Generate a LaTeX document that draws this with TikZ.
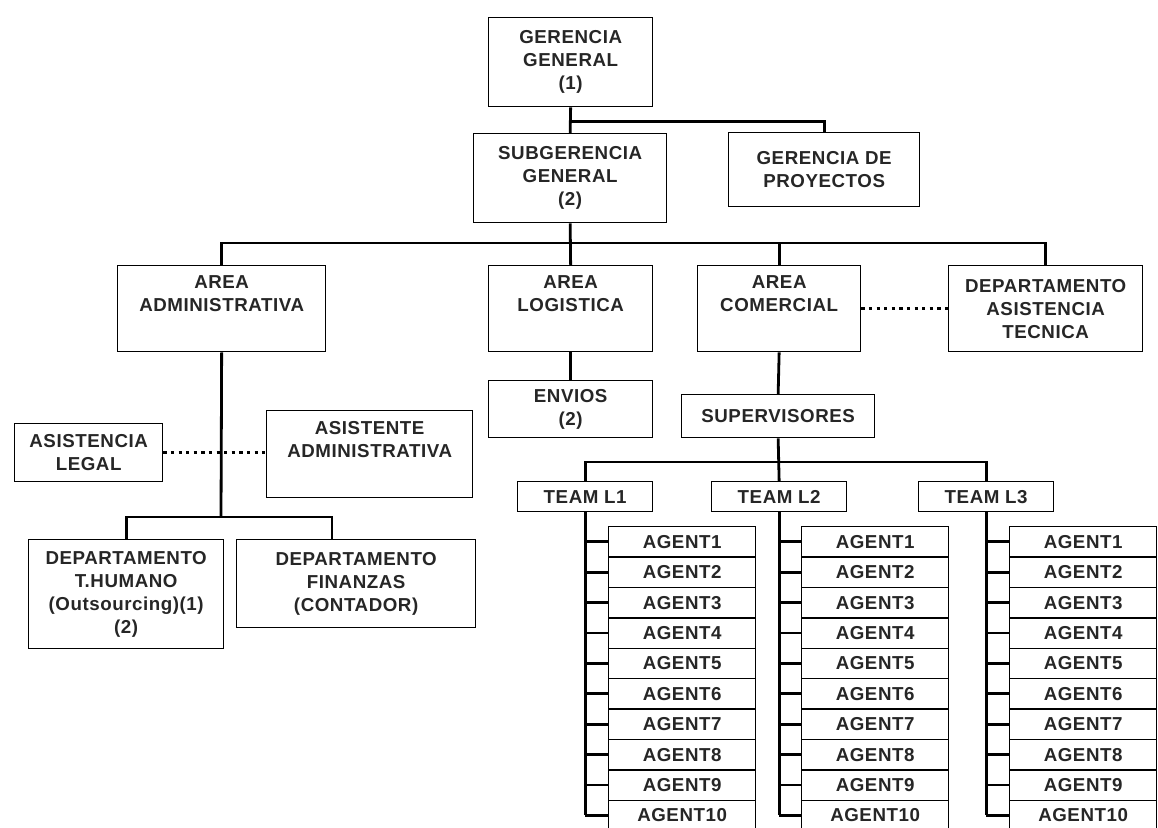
\documentclass[tikz,border=0pt]{standalone}
\usepackage{fontspec}
\setmainfont{Liberation Sans}[LetterSpace=3]
\tikzset{
  orgbox/.style={draw, line width=1.3bp, inner sep=0pt, align=center, anchor=north west,
    text=black!85, font=\bfseries\fontsize{18.8}{23}\selectfont},
  agentbox/.style={orgbox, minimum width=147bp, minimum height=30.4bp},
  teambox/.style={orgbox, minimum width=135bp, minimum height=30bp},
  link/.style={line width=2.8bp},
  dotlink/.style={line width=3.4bp, dash pattern=on 3.2bp off 4.4bp},
}
\begin{document}
\begin{tikzpicture}[x=1bp, y=-1bp]
\useasboundingbox[fill=white] (0,0) rectangle (1158,828);
% Direction
\node[orgbox, minimum width=164bp, minimum height=89bp] (gg) at (488,17) {GERENCIA\\GENERAL\\(1)};
\node[orgbox, minimum width=193bp, minimum height=89bp] (sg) at (473,133) {SUBGERENCIA\\GENERAL\\(2)};
\node[orgbox, minimum width=191bp, minimum height=74bp] (gp) at (728,132) {GERENCIA DE\\PROYECTOS};
\draw[link] (gg.south) -- (sg.north);
\draw[link] (gg.south) ++(0,14) -| (gp.north);
% Areas
\node[orgbox, minimum width=208bp, minimum height=86bp] (adm) at (117,265) {AREA\\ADMINISTRATIVA\\\strut};
\node[orgbox, minimum width=164bp, minimum height=86bp] (log) at (488,265) {AREA\\LOGISTICA\\\strut};
\node[orgbox, minimum width=163bp, minimum height=86bp] (com) at (697,265) {AREA\\COMERCIAL\\\strut};
\node[orgbox, minimum width=194bp, minimum height=86bp] (dat) at (948,265) {DEPARTAMENTO\\ASISTENCIA\\TECNICA};
\coordinate (areabus) at (570,243);
\draw[link] (sg.south) -- (log.north);
\draw[link] (adm.north) -- (adm.north |- areabus) -- (dat.north |- areabus) -- (dat.north);
\draw[link] (com.north) -- (com.north |- areabus);
\draw[dotlink] (com.east) -- (dat.west);
% Administrative side
\node[orgbox, minimum width=148bp, minimum height=58bp] (legal) at (14,423) {ASISTENCIA\\LEGAL};
\node[orgbox, minimum width=206bp, minimum height=87bp] (asis) at (266,410) {ASISTENTE\\ADMINISTRATIVA\\\strut};
\node[orgbox, minimum width=195bp, minimum height=109bp] (thum) at (28,539) {DEPARTAMENTO\\T.HUMANO\\(Outsourcing)(1)\\(2)};
\node[orgbox, minimum width=239bp, minimum height=88bp] (fin) at (236,539) {DEPARTAMENTO\\FINANZAS\\(CONTADOR)};
\coordinate (admbus) at (221,517);
\coordinate (finx) at (332,0);
\draw[link] (adm.south) -- (admbus);
\draw[link] (thum.north) |- (admbus) -| (fin.north -| finx);
\draw[dotlink] (legal.east) -- (legal.east -| asis.west);
% Logistics and sales
\node[orgbox, minimum width=164bp, minimum height=57bp] (env) at (488,380) {ENVIOS\\(2)};
\node[orgbox, minimum width=193bp, minimum height=43bp] (sup) at (681,394) {SUPERVISORES};
\draw[link] (log.south) -- (env.north);
\draw[link] (com.south) -- (sup.north);
% Teams
\node[teambox] (tl1) at (517,481) {TEAM L1};
\node[teambox] (tl2) at (711,481) {TEAM L2};
\node[teambox] (tl3) at (918,481) {TEAM L3};
\coordinate (teambus) at (778,462);
\draw[link] (sup.south) -- (tl2.north);
\draw[link] (tl1.north) |- (teambus) -| (tl3.north);
% Agents
\foreach \t/\x in {1/608, 2/801, 3/1009} {
  \foreach \i in {1,...,10} {
    \node[agentbox] (a\t-\i) at (\x, {526+(\i-1)*30.4}) {AGENT\i};
    \draw[link] (tl\t.south |- a\t-\i.west) -- (a\t-\i.west);
  }
  \draw[link] (tl\t.south) -- (tl\t.south |- a\t-10.west);
}
\end{tikzpicture}
\end{document}
